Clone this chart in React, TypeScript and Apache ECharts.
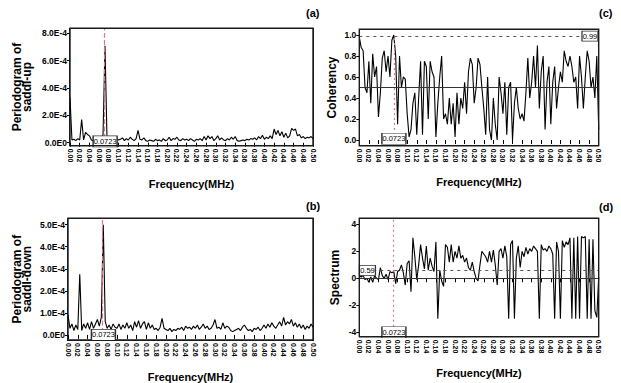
import React, { useEffect, useRef } from "react";
import * as echarts from "echarts";

// ---------- data ----------
// frequency grid: 0.000 .. 0.500 MHz, step 0.004 (126 points)
const FREQ_STEP = 0.004;

// Periodogram of saddl-up (units of 1E-4)
const saddlUp = [
  3.3, 0.2, 0.25, 0.15, 0.3, 0.2, 1.7, 0.2, 0.75, 0.6,
  0.5, 0.2, 0.15, 0.3, 0.2, 0.45, 0.25, 0.6, 7.1, 0.5,
  0.3, 0.2, 0.35, 0.15, 0.3, 0.2, 0.25, 0.35, 0.15, 0.3,
  0.2, 0.4, 0.25, 0.15, 0.3, 0.9, 0.25, 0.2, 0.35, 0.15,
  0.1, 0.2, 0.15, 0.1, 0.25, 0.15, 0.2, 0.1, 0.3, 0.15,
  0.2, 0.4, 0.15, 0.3, 0.25, 0.4, 0.2, 0.15, 0.3, 0.2,
  0.25, 0.15, 0.3, 0.2, 0.1, 0.25, 0.2, 0.3, 0.15, 0.45,
  0.2, 0.5, 0.3, 0.45, 0.15, 0.3, 0.5, 0.2, 0.35, 0.2,
  0.15, 0.3, 0.2, 0.4, 0.25, 0.45, 0.15, 0.1, 0.15, 0.2,
  0.15, 0.25, 0.2, 0.3, 0.25, 0.35, 0.2, 0.45, 0.3, 0.55,
  0.25, 0.4, 0.3, 0.5, 0.3, 1.0, 0.6, 0.9, 0.5, 0.8,
  0.4, 0.7, 0.35, 0.5, 1.05, 0.9, 1.0, 0.5, 0.6, 0.35,
  0.45, 0.3, 0.4, 0.35, 0.45, 0.3,
];

// Periodogram of saddl-down (units of 1E-4)
const saddlDown = [
  0.9, 0.3, 0.5, 0.2, 0.45, 0.25, 2.75, 0.2, 0.5, 0.3,
  0.55, 0.25, 0.6, 0.3, 0.5, 0.7, 0.4, 0.8, 5.0, 0.6,
  0.3, 0.45, 0.25, 0.5, 0.35, 0.3, 0.5, 0.25, 0.45, 0.3,
  0.55, 0.3, 0.45, 0.2, 0.6, 0.35, 0.65, 0.3, 0.5, 0.6,
  0.25, 0.55, 0.3, 0.45, 0.25, 0.3, 0.2, 0.35, 0.75, 0.3,
  0.25, 0.2, 0.3, 0.15, 0.25, 0.2, 0.3, 0.25, 0.35, 0.2,
  0.4, 0.3, 0.35, 0.25, 0.4, 0.3, 0.45, 0.25, 0.35, 0.5,
  0.3, 0.4, 0.25, 0.3, 0.45, 0.7, 0.3, 0.35, 0.25, 0.55,
  0.3, 0.4, 0.35, 0.2, 0.15, 0.2, 0.25, 0.3, 0.2, 0.35,
  0.45, 0.3, 0.2, 0.25, 0.15, 0.3, 0.25, 0.35, 0.2, 0.3,
  0.45, 0.3, 0.5, 0.35, 0.55, 0.4, 0.3, 0.45, 0.6, 0.4,
  0.8, 0.45, 0.6, 0.5, 0.7, 0.4, 0.55, 0.35, 0.5, 0.3,
  0.45, 0.25, 0.4, 0.3, 0.5, 0.35,
];

// Coherency
const coherency = [
  0.98, 0.88, 0.85, 0.5, 0.45, 0.75, 0.35, 0.82, 0.6, 0.7,
  0.22, 0.45, 0.78, 0.85, 0.65, 0.8, 0.6, 0.95, 1.0, 0.8,
  0.15, 0.8, 0.5, 0.6, 0.58, 0.25, 0.03, 0.1, 0.35, 0.45,
  0.05, 0.4, 0.75, 0.05, 0.75, 0.7, 0.2, 0.75, 0.65, 0.6,
  0.03, 0.35, 0.6, 0.8, 0.2, 0.25, 0.15, 0.4, 0.15, 0.35,
  0.03, 0.45, 0.15, 0.4, 0.3, 0.55, 0.25, 0.65, 0.78, 0.72,
  0.35, 0.5, 0.78, 0.72, 0.5, 0.3, 0.05, 0.6, 0.1, 0.0,
  0.4, 0.15, 0.0, 0.6, 0.45, 0.25, 0.55, 0.05, 0.5, 0.55,
  0.0, 0.35, 0.5, 0.3, 0.2, 0.25, 0.18, 0.45, 0.78, 0.4,
  0.55, 0.8, 0.5, 0.9, 0.3, 0.65, 0.8, 0.1, 0.55, 0.7,
  0.15, 0.55, 0.7, 0.3, 0.5, 0.65, 0.55, 0.85, 0.75, 0.7,
  0.8, 0.7, 0.55, 0.6, 0.3, 0.8, 0.6, 0.3, 0.6, 0.85,
  0.75, 0.5, 0.6, 0.4, 0.8, 0.1,
];

// Spectrum
const spectrum = [
  0.2, 0.1, 0.2, -0.1, 0.0, -0.3, 0.1, -0.3, 0.2, 0.0,
  -0.1, 0.8, 0.2, 0.0, 0.3, -0.1, 0.5, 0.4, 0.5, -0.4,
  0.5, 0.6, 1.0, 0.4, -0.5, 1.1, 1.3, -1.0, 3.0, 1.6,
  -0.1, 1.0, 2.5, 1.5, 0.7, 2.4, 0.6, 1.5, 0.9, 0.5,
  2.7, -3.0, 0.6, -0.2, -0.6, 2.5, 2.3, 1.2, 2.5, 1.2,
  2.0, 1.5, 2.4, 1.5, 1.7, 1.2, 1.5, 0.8, 0.6, 1.2,
  0.5, 0.0, -0.2, 1.0, 2.0, 1.8, 1.6, 1.2, 2.0, 1.2,
  2.1, 1.0, -0.5, 2.0, 2.2, 1.5, 2.4, 1.6, -3.0, 2.5,
  2.8, -3.0, 1.5, 2.4, 0.8, 2.0, 1.6, 2.3, 1.8, 2.2,
  2.0, 2.4, 2.2, 2.0, -3.0, 2.5, 2.1, 2.2, 2.0, 2.4,
  2.2, 1.8, -3.0, 2.7, 2.0, -3.0, 2.8, 2.3, 2.7, 2.5,
  3.0, -3.0, 3.0, -3.0, 3.1, -3.0, 3.1, 3.0, 3.1, -3.0,
  2.9, -3.0, 2.9, -2.4, -2.9, 0.1,
];

// tick labels
const periodTicksUp = [0, 2, 4, 6, 8];
const periodTicksDown = [0, 1, 2, 3, 4, 5];
const cohTicks = [0, 0.2, 0.4, 0.6, 0.8, 1.0];
const specTicks = [-4, -2, 0, 2, 4];

// reference markers
const PEAK_FREQ = 0.0723;
const COH_HIGH = 0.99;
const COH_MID = 0.5;
const SPEC_LEVEL = 0.59;
const SPEC_ZERO = 0;

// axis extents (value units) for the four panels
const X_MIN = 0;
const X_MAX = 0.5;
const Y_RANGES = [
  [-0.22, 8.37],
  [-0.23, 5.29],
  [-0.054, 1.054],
  [-4.33, 4.45],
];

// ---------- layout ----------
const GRIDS = [
  { left: 70, top: 28.3, width: 243, height: 117.4 },
  { left: 68, top: 218.3, width: 245, height: 121.7 },
  { left: 359.3, top: 29.3, width: 239.4, height: 116.4 },
  { left: 359.3, top: 218.3, width: 239.4, height: 118.4 },
];
const FRAME_W = 1.4;
const FRAME_COLOR = "#1a1a1a";

// ---------- helpers ----------
const FONT = "'Liberation Sans', Arial, Helvetica, sans-serif";

const toPairs = (vals: number[]) =>
  vals.map((v, i) => [Number((i * FREQ_STEP).toFixed(3)), v]);

const fmtE = (v: number) =>
  Math.abs(v) < 1e-9 ? "0.0E0" : `${v.toFixed(1)}E-4`;

function makeXAxis(gridIndex: number, nameGap: number) {
  return {
    type: "value",
    gridIndex,
    min: X_MIN,
    max: X_MAX,
    interval: 0.02,
    name: "Frequency(MHz)",
    nameLocation: "middle",
    nameGap,
    nameTextStyle: { fontFamily: FONT, fontWeight: "bold", fontSize: 11, color: "#000" },
    axisLine: { show: false },
    axisTick: { show: true, length: 4, lineStyle: { color: "#000", width: 1 } },
    axisLabel: {
      rotate: -90,
      fontSize: 7,
      fontWeight: "bold",
      fontFamily: FONT,
      color: "#000",
      margin: 3,
      formatter: (v: number) => v.toFixed(2),
    },
    splitLine: { show: false },
  };
}

function makeYAxis(
  gridIndex: number,
  step: number,
  ticks: number[],
  formatter: (v: number) => string,
  name: string,
  nameGap: number
) {
  return {
    type: "value",
    gridIndex,
    min: Y_RANGES[gridIndex][0],
    max: Y_RANGES[gridIndex][1],
    minInterval: step,
    maxInterval: step,
    name,
    nameLocation: "middle",
    nameGap,
    nameRotate: 90,
    nameTextStyle: {
      fontFamily: FONT,
      fontWeight: "bold",
      fontSize: 12,
      lineHeight: 10,
      color: "#000",
      align: "center",
    },
    axisLine: { show: false },
    axisTick: { show: true, length: 3, customValues: ticks, lineStyle: { color: "#000", width: 1 } },
    axisLabel: {
      customValues: ticks,
      fontSize: 8.5,
      fontWeight: "bold",
      fontFamily: FONT,
      color: "#000",
      margin: 3,
      formatter,
    },
    splitLine: { show: false },
  };
}

const boxPoint = (coord: number[], text: string, w: number, h: number) => ({
  coord,
  symbol: "rect",
  symbolSize: [w, h],
  itemStyle: { color: "#fff", borderColor: "#333", borderWidth: 1 },
  label: {
    show: true,
    position: "inside",
    formatter: text,
    color: "#000",
    fontSize: 7.5,
    fontFamily: FONT,
  },
});

const RED = "#e07585";
const redLine = (type: any) => ({ color: RED, width: 1.2, type });

export default function App() {
  const ref = useRef<HTMLDivElement>(null);

  useEffect(() => {
    document.body.style.margin = "0";
    if (!ref.current) return;
    const chart = echarts.init(ref.current, undefined, { renderer: "svg" });

    const lineStyle = { color: "#000", width: 1.1 };

    const option: any = {
      animation: false,
      backgroundColor: "#fff",
      title: [
        { text: "(a)", left: 306, top: 7 },
        { text: "(c)", left: 599, top: 7 },
        { text: "(b)", left: 306, top: 200 },
        { text: "(d)", left: 599, top: 201 },
      ].map((t) => ({
        ...t,
        padding: 0,
        textStyle: { fontFamily: FONT, fontWeight: "bold", fontSize: 11, color: "#000" },
      })),
      grid: GRIDS.map((g) => ({
        ...g,
        show: true,
        borderColor: FRAME_COLOR,
        borderWidth: FRAME_W,
        backgroundColor: "rgba(255,255,255,0)",
      })),
      xAxis: [makeXAxis(0, 33), makeXAxis(1, 31), makeXAxis(2, 31), makeXAxis(3, 31)],
      yAxis: [
        makeYAxis(0, 2, periodTicksUp, fmtE, "Periodogram of\nsaddl-up", 38),
        makeYAxis(1, 1, periodTicksDown, fmtE, "Periodogram of\nsaddl-down", 36),
        makeYAxis(2, 0.2, cohTicks, (v) => v.toFixed(1), "Coherency", 22),
        makeYAxis(3, 2, specTicks, (v) => String(Math.round(v)), "Spectrum", 19),
      ],
      series: [
        {
          type: "line",
          xAxisIndex: 0,
          yAxisIndex: 0,
          data: toPairs(saddlUp),
          showSymbol: false,
          symbol: "none",
          lineStyle,
          z: 3,
          markLine: {
            silent: true,
            symbol: ["none", "none"],
            label: { show: false },
            lineStyle: redLine("dashed"),
            data: [{ xAxis: PEAK_FREQ }],
          },
          markPoint: { silent: true, data: [boxPoint([PEAK_FREQ, 0.1], "0.0723", 24, 11)] },
        },
        {
          type: "line",
          xAxisIndex: 1,
          yAxisIndex: 1,
          data: toPairs(saddlDown),
          showSymbol: false,
          symbol: "none",
          lineStyle,
          markLine: {
            silent: true,
            symbol: ["none", "none"],
            label: { show: false },
            lineStyle: redLine("dashed"),
            data: [{ xAxis: PEAK_FREQ }],
          },
          markPoint: { silent: true, data: [boxPoint([PEAK_FREQ, 0], "0.0723", 24, 11)] },
        },
        {
          type: "line",
          xAxisIndex: 2,
          yAxisIndex: 2,
          data: toPairs(coherency),
          showSymbol: false,
          symbol: "none",
          lineStyle,
          markLine: {
            silent: true,
            symbol: ["none", "none"],
            label: { show: false },
            data: [
              { yAxis: COH_HIGH, lineStyle: { color: "#555", width: 1, type: [3, 4] } },
              { yAxis: COH_MID, lineStyle: { color: "#333", width: 1, type: "solid" } },
              [
                { coord: [PEAK_FREQ, 0], lineStyle: redLine([2, 3]) },
                { coord: [PEAK_FREQ, COH_HIGH], lineStyle: redLine([2, 3]) },
              ],
            ],
          },
          markPoint: {
            silent: true,
            data: [
              boxPoint([PEAK_FREQ, 0.012], "0.0723", 24, 11),
              boxPoint([0.4818, COH_HIGH], "0.99", 16, 10),
            ],
          },
        },
        {
          type: "line",
          xAxisIndex: 3,
          yAxisIndex: 3,
          data: toPairs(spectrum),
          showSymbol: false,
          symbol: "none",
          lineStyle,
          markLine: {
            silent: true,
            symbol: ["none", "none"],
            label: { show: false },
            data: [
              { yAxis: SPEC_LEVEL, lineStyle: { color: "#555", width: 1, type: [3, 4] } },
              { yAxis: SPEC_ZERO, lineStyle: { color: "#333", width: 1, type: "solid" } },
              { xAxis: PEAK_FREQ, lineStyle: redLine([2, 3]) },
            ],
          },
          markPoint: {
            silent: true,
            data: [
              boxPoint([PEAK_FREQ, -4], "0.0723", 24, 11),
              boxPoint([0.017, SPEC_LEVEL], "0.59", 16, 10),
            ],
          },
        },
      ],
    };

    chart.setOption(option);

    return () => {
      chart.dispose();
    };
  }, []);

  return (
    <div style={{ position: "relative", width: 621, height: 383, background: "#fff" }}>
      <div ref={ref} style={{ width: 621, height: 383 }} />
      {GRIDS.map((g, i) => (
        <div
          key={i}
          style={{
            position: "absolute",
            left: g.left - FRAME_W / 2,
            top: g.top - FRAME_W / 2,
            width: g.width + FRAME_W,
            height: g.height + FRAME_W,
            border: `${FRAME_W}px solid ${FRAME_COLOR}`,
            boxSizing: "border-box",
            pointerEvents: "none",
          }}
        />
      ))}
    </div>
  );
}
